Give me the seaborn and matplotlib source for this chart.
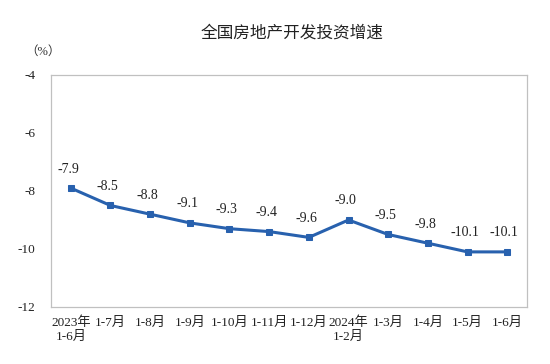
import matplotlib
matplotlib.use('Agg')
import matplotlib.pyplot as plt
import pandas as pd
import seaborn as sns

# 数据
periods = ['2023年\n1-6月', '1-7月', '1-8月', '1-9月', '1-10月', '1-11月', '1-12月',
           '2024年\n1-2月', '1-3月', '1-4月', '1-5月', '1-6月']
growth = [-7.9, -8.5, -8.8, -9.1, -9.3, -9.4, -9.6, -9.0, -9.5, -9.8, -10.1, -10.1]
y_ticks = [-12, -10, -8, -6, -4]

df = pd.DataFrame({'idx': range(len(periods)), 'growth': growth})

sns.set_style('white')
plt.rcParams['font.family'] = ['Liberation Serif', 'Noto Sans CJK SC']
serif_cjk = ['Liberation Serif', 'Noto Sans CJK SC']

fig = plt.figure(figsize=(5.5, 3.64), dpi=100)
ax = fig.add_axes([0.0927, 0.1566, 0.8655, 0.6374])

line_color = '#2861ae'
sns.lineplot(x='idx', y='growth', data=df, ax=ax, color=line_color, linewidth=2.2,
             marker='s', markersize=5, markeredgecolor=line_color)

for i, v in zip(df['idx'], df['growth']):
    ax.annotate(f'{v:.1f}', (i, v), xytext=(-2, 9), textcoords='offset points',
                ha='center', va='bottom', fontsize=10, color='#222222', family=serif_cjk)

ax.set_xlim(-0.5, len(periods) - 0.5)
ax.set_ylim(-12, -4)
ax.set_yticks(y_ticks)
ax.set_yticklabels([str(t) for t in y_ticks], fontsize=9.5, family=serif_cjk, color='#222222')

ax.set_xticks(range(len(periods)))
ax.set_xticklabels(periods, fontsize=9.5, family=serif_cjk, color='#222222', linespacing=1.2)
ax.tick_params(axis='x', which='major', length=0, pad=7)
ax.set_xticks([i + 0.5 for i in range(len(periods) - 1)], minor=True)
ax.tick_params(axis='x', which='minor', direction='in', length=4, color='#bbbbbb', width=0.8)
ax.tick_params(axis='y', direction='out', length=2, color='#bbbbbb', pad=9)

ax.set_xlabel('')
ax.set_ylabel('')
for s in ax.spines.values():
    s.set_color('#c0c0c0')
    s.set_linewidth(0.9)

fig.text(0.531, 0.91, '全国房地产开发投资增速', ha='center', va='center',
         fontsize=12, family=['Noto Sans CJK SC'], color='#222222')
fig.text(0.078, 0.857, '（%）', ha='center', va='center', fontsize=9,
         family=serif_cjk, color='#333333')

fig.savefig('out.png', dpi=100)
